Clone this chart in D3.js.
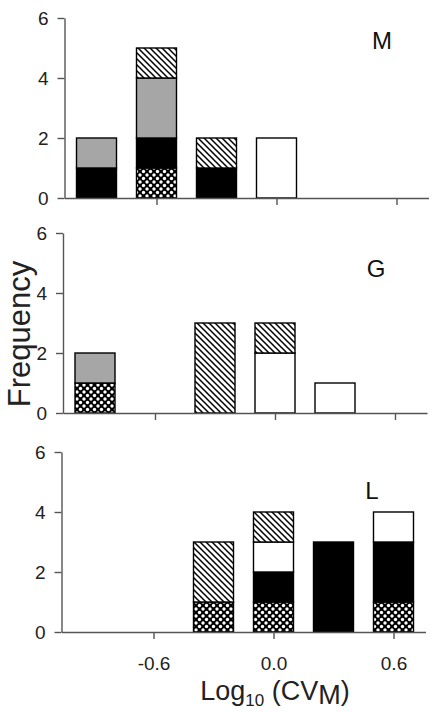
<!DOCTYPE html>
<html><head><meta charset="utf-8">
<script src="https://cdn.jsdelivr.net/npm/d3@7"></script>
<style>body{margin:0;background:#fff}svg{display:block}</style>
</head><body>
<svg id="c" width="442" height="712"></svg>
<script>
// ---- data ----
const bins = [-0.9, -0.6, -0.3, 0.0, 0.3, 0.6];
const seriesKeys = ["crosshatch", "black", "white", "gray", "hatch"];
const panelNames = ["M", "G", "L"];
const M_values = {
  crosshatch: [0, 1, 0, 0, 0, 0],
  black:      [1, 1, 1, 0, 0, 0],
  white:      [0, 0, 0, 2, 0, 0],
  gray:       [1, 2, 0, 0, 0, 0],
  hatch:      [0, 1, 1, 0, 0, 0]
};
const G_values = {
  crosshatch: [1, 0, 0, 0, 0, 0],
  black:      [0, 0, 0, 0, 0, 0],
  white:      [0, 0, 0, 2, 1, 0],
  gray:       [1, 0, 0, 0, 0, 0],
  hatch:      [0, 0, 3, 1, 0, 0]
};
const L_values = {
  crosshatch: [0, 0, 1, 1, 0, 1],
  black:      [0, 0, 0, 1, 3, 2],
  white:      [0, 0, 0, 1, 0, 1],
  gray:       [0, 0, 0, 0, 0, 0],
  hatch:      [0, 0, 2, 1, 0, 0]
};
const xTicks = [-0.6, 0.0, 0.6];
const xTickLabels = ["-0.6", "0.0", "0.6"];
const yTicks = [0, 2, 4, 6];
const panelValues = [M_values, G_values, L_values];

// ---- layout ----
const FONT = "Liberation Sans, Arial, sans-serif";
const svg = d3.select("#c");
const defs = svg.append("defs");
const pc = defs.append("pattern").attr("id","p-crosshatch").attr("patternUnits","userSpaceOnUse")
  .attr("width",7).attr("height",7);
pc.append("rect").attr("width",7).attr("height",7).attr("fill","#000");
[[0,0],[7,0],[0,7],[7,7],[3.5,3.5]].forEach(([x,y])=>pc.append("circle").attr("cx",x).attr("cy",y).attr("r",1.7).attr("fill","#fff"));
const ph = defs.append("pattern").attr("id","p-hatch").attr("patternUnits","userSpaceOnUse")
  .attr("width",6).attr("height",6);
ph.append("rect").attr("width",6).attr("height",6).attr("fill","#fff");
ph.append("path").attr("d","M-1,-1L7,7M-1,5L1,7M5,-1L7,1").attr("stroke","#000").attr("stroke-width",1.5);

const fills = {crosshatch:"url(#p-crosshatch)", black:"#000", white:"#fff", gray:"#a6a6a6", hatch:"url(#p-hatch)"};

const panels = [
  {top: 18, bottom: 198, dx: 1.5, label: [382, 49]},
  {top: 233, bottom: 413, dx: 0, label: [376, 277]},
  {top: 452, bottom: 632, dx: -1.5, label: [372, 499]}
];
const axisColor = "#555";
const barW = 0.2;

panels.forEach((p, i) => {
  const x = d3.scaleLinear().domain([-1.06, 0.76]).range([64 + p.dx - 1, 428 + p.dx - 1]);
  const y = d3.scaleLinear().domain([0, 6]).range([p.bottom, p.top]);
  const g = svg.append("g");
  const vals = panelValues[i];
  const rows = bins.map((b, j) => { const r = {bin: b}; seriesKeys.forEach(k => r[k] = vals[k][j]); return r; });
  const stacked = d3.stack().keys(seriesKeys)(rows);
  stacked.forEach(layer => {
    g.selectAll(null).data(layer.filter(d => d[1] > d[0])).join("rect")
      .attr("x", d => x(d.data.bin - barW/2))
      .attr("width", d => x(d.data.bin + barW/2) - x(d.data.bin - barW/2))
      .attr("y", d => y(d[1]))
      .attr("height", d => y(d[0]) - y(d[1]))
      .attr("fill", fills[layer.key])
      .attr("stroke", "#000").attr("stroke-width", 1.4);
  });
  const xa = g.append("g").attr("transform", `translate(0,${p.bottom})`)
    .call(d3.axisBottom(x).tickValues(xTicks).tickSize(7).tickSizeOuter(0)
      .tickFormat((d, k) => i === 2 ? xTickLabels[k] : ""));
  const ya = g.append("g").attr("transform", `translate(${x(-1.06)},0)`)
    .call(d3.axisLeft(y).tickValues(yTicks).tickSize(7).tickSizeOuter(0).tickPadding(9).tickFormat(d3.format("d")));
  [xa, ya].forEach(a => {
    a.select(".domain").attr("stroke", axisColor).attr("stroke-width", 1.4);
    a.selectAll(".tick line").attr("stroke", axisColor).attr("stroke-width", 1.4);
    a.selectAll("text").attr("font-family", FONT).attr("font-size", 19).attr("fill", "#222");
  });
  xa.selectAll("text").attr("y", 25);
  g.append("text").attr("x", p.label[0]).attr("y", p.label[1]).attr("text-anchor", "middle")
    .attr("font-family", FONT).attr("font-size", 24).attr("fill", "#111")
    .text(panelNames[i]);
});

svg.append("text").attr("transform", "translate(30,334) rotate(-90)").attr("text-anchor", "middle")
  .attr("font-family", FONT).attr("font-size", 31).attr("fill", "#222")
  .text("Frequency");

const xl = svg.append("text").attr("x", 275).attr("y", 700).attr("text-anchor", "middle")
  .attr("font-family", FONT).attr("font-size", 27).attr("fill", "#222");
xl.append("tspan").text("Log");
xl.append("tspan").attr("font-size", 17).attr("dy", 6).text("10");
xl.append("tspan").attr("dy", -6).text(" (CV");
xl.append("tspan").attr("dy", 4).text("M");
xl.append("tspan").attr("dy", -4).text(")");
</script>
</body></html>
